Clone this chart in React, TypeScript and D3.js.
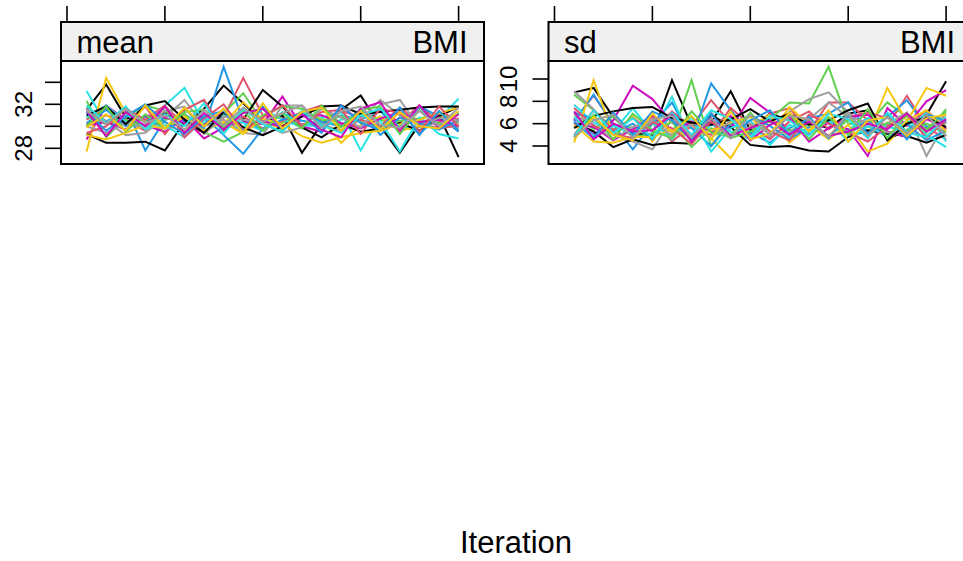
import React from "react";
import * as d3 from "d3";

const iterations = d3.range(1, 21);
const palette = ["#000000", "#DF536B", "#61D04F", "#2297E6", "#28E2E5", "#CD0BBC", "#F5C710", "#9E9E9E"];
const xTicks = [0, 5, 10, 15, 20];

const meanTicks = [28, 30, 32, 34];
const meanLabels = [28, 32];
const sdTicks = [4, 6, 8, 10];
const sdLabels = [4, 6, 8, 10];

const meanChains: number[][] = [
  [31.5, 33.8, 30.8, 30.5, 31.2, 30.2, 31.6, 33.7, 32.1, 30.4, 31.0, 27.6, 30.2, 31.5, 32.8, 30.0, 27.6, 30.2, 31.0, 27.2],
  [30.2, 31.0, 30.5, 29.6, 31.8, 30.2, 29.4, 30.8, 34.4, 31.0, 30.7, 30.2, 30.0, 31.4, 30.8, 31.6, 30.3, 31.9, 30.4, 30.7],
  [32.3, 29.0, 30.8, 31.9, 31.4, 30.2, 30.6, 31.2, 33.0, 30.4, 30.3, 31.1, 30.7, 30.0, 31.2, 30.6, 30.1, 30.6, 30.3, 29.8],
  [31.2, 30.4, 31.7, 27.8, 30.6, 31.1, 29.8, 35.4, 30.5, 29.7, 31.2, 30.5, 30.2, 31.0, 30.6, 31.4, 29.4, 31.8, 30.9, 29.5],
  [33.2, 30.2, 31.0, 30.5, 31.9, 33.5, 30.3, 30.0, 29.9, 31.6, 30.6, 29.9, 30.8, 31.3, 27.8, 30.9, 30.2, 29.4, 30.7, 32.5],
  [28.8, 31.9, 30.6, 30.1, 29.5, 30.7, 28.9, 29.9, 30.4, 30.2, 32.7, 30.0, 29.5, 31.9, 30.4, 29.6, 30.8, 30.2, 31.0, 30.4],
  [27.7, 34.4, 31.2, 30.4, 30.1, 29.6, 30.9, 30.2, 32.2, 30.5, 29.7, 31.4, 30.6, 28.5, 30.1, 30.9, 29.6, 30.0, 30.8, 31.1],
  [31.6, 30.5, 29.2, 29.4, 30.8, 32.4, 30.0, 30.6, 29.4, 29.2, 31.9, 31.9, 30.2, 29.6, 30.6, 32.4, 31.0, 30.5, 30.1, 29.9],
  [29.3, 28.5, 28.5, 28.6, 27.8, 30.4, 30.1, 31.0, 30.6, 33.3, 31.8, 29.9, 29.0, 30.2, 29.5, 29.8, 30.3, 29.6, 30.9, 31.8],
  [30.6, 31.6, 30.2, 31.8, 29.3, 31.5, 32.4, 29.6, 30.9, 29.8, 30.5, 31.3, 31.9, 30.1, 30.6, 30.0, 31.7, 30.3, 29.8, 30.1],
  [30.9, 30.2, 30.6, 29.9, 30.6, 31.1, 29.5, 28.6, 29.5, 31.0, 31.8, 31.6, 30.5, 30.9, 30.4, 29.8, 30.5, 30.7, 31.2, 30.3],
  [30.3, 31.5, 30.0, 30.9, 29.8, 30.5, 30.9, 29.2, 27.5, 29.8, 30.6, 31.2, 30.4, 30.0, 31.6, 29.2, 30.8, 30.3, 29.7, 30.6],
  [30.8, 31.9, 30.4, 29.8, 30.1, 29.0, 30.6, 31.0, 30.3, 29.6, 31.3, 30.1, 30.0, 30.6, 31.0, 30.5, 27.7, 30.8, 29.3, 28.9],
  [30.1, 30.4, 29.7, 31.0, 30.8, 30.3, 30.1, 31.4, 29.6, 30.5, 29.9, 30.9, 31.0, 30.3, 29.8, 30.7, 31.3, 30.4, 30.6, 30.0],
  [29.2, 28.8, 29.4, 30.1, 29.8, 30.9, 29.6, 30.4, 29.3, 30.7, 30.2, 29.1, 28.5, 29.0, 29.4, 29.6, 30.2, 30.6, 31.2, 31.7],
  [30.0, 29.4, 30.3, 29.9, 31.4, 31.8, 29.3, 30.9, 30.6, 30.3, 29.4, 29.9, 31.6, 30.8, 29.9, 32.0, 32.4, 29.9, 30.8, 30.5],
  [31.0, 31.8, 30.2, 31.9, 32.3, 30.6, 29.4, 31.3, 29.9, 29.2, 30.0, 30.9, 31.8, 31.9, 31.1, 31.3, 31.5, 31.7, 31.8, 31.8],
  [29.4, 30.0, 31.6, 30.6, 31.9, 29.0, 30.7, 32.0, 29.6, 30.8, 31.9, 30.0, 31.3, 31.5, 29.3, 31.6, 31.2, 29.5, 31.8, 30.0],
  [30.0, 31.8, 29.5, 31.1, 29.8, 31.3, 31.5, 29.9, 31.4, 29.6, 31.2, 29.8, 31.9, 29.9, 31.5, 31.8, 29.3, 31.5, 30.0, 31.2],
  [31.3, 29.6, 30.9, 32.0, 30.4, 29.3, 30.9, 31.4, 29.5, 31.8, 29.7, 31.2, 29.4, 31.9, 30.3, 29.7, 31.7, 29.2, 31.4, 29.6],
  [31.9, 30.3, 31.8, 29.7, 31.1, 30.0, 32.1, 29.3, 31.6, 30.2, 29.5, 31.4, 30.1, 29.4, 31.0, 31.6, 29.9, 31.8, 29.9, 31.3],
  [31.4, 29.1, 31.3, 30.0, 31.8, 29.4, 31.2, 29.7, 31.2, 31.6, 29.9, 31.1, 29.7, 29.0, 31.6, 32.2, 29.6, 31.9, 29.8, 31.1],
  [29.9, 31.1, 29.6, 31.9, 29.8, 31.7, 30.0, 31.6, 29.4, 32.1, 29.8, 31.3, 31.7, 29.6, 31.4, 29.7, 31.3, 30.0, 29.8, 31.4],
  [31.4, 30.2, 31.6, 30.3, 31.0, 29.7, 31.5, 30.1, 31.7, 30.4, 31.2, 31.9, 29.8, 31.4, 31.8, 30.1, 29.9, 31.4, 30.0, 31.7],
];

const sdChains: number[][] = [
  [8.8, 9.2, 6.6, 5.1, 5.0, 9.9, 5.8, 6.1, 8.9, 5.4, 6.9, 6.3, 6.1, 5.6, 6.9, 7.2, 4.6, 5.4, 6.8, 9.8],
  [6.3, 8.5, 6.0, 5.4, 6.6, 4.4, 5.8, 8.1, 6.0, 5.0, 6.9, 7.4, 5.3, 7.9, 7.9, 6.3, 5.8, 8.5, 5.7, 4.6],
  [8.6, 7.2, 5.5, 5.7, 6.0, 4.9, 9.9, 4.0, 6.4, 5.2, 6.4, 7.9, 7.8, 11.1, 6.0, 5.9, 7.9, 6.6, 5.2, 7.3],
  [6.2, 8.6, 5.9, 3.7, 6.0, 7.9, 4.6, 9.6, 7.2, 5.2, 4.3, 5.6, 6.5, 6.9, 7.9, 5.2, 6.6, 8.1, 5.7, 6.1],
  [7.7, 6.1, 5.3, 7.4, 5.2, 8.4, 4.3, 5.9, 5.3, 4.6, 6.5, 4.8, 6.1, 4.8, 5.5, 6.5, 5.7, 5.4, 7.0, 4.4],
  [6.5, 5.0, 6.3, 9.4, 8.2, 6.1, 5.0, 6.0, 5.6, 8.3, 7.0, 5.4, 5.1, 6.1, 5.5, 3.1, 7.4, 5.8, 8.0, 9.0],
  [4.3, 9.9, 5.0, 6.7, 4.4, 6.9, 5.8, 4.7, 2.9, 5.8, 6.8, 4.3, 5.7, 4.9, 6.6, 5.0, 9.2, 6.2, 9.2, 8.5],
  [8.9, 7.3, 5.0, 4.4, 3.7, 6.4, 5.0, 7.0, 5.0, 5.7, 4.8, 7.1, 8.2, 8.8, 7.0, 5.7, 6.0, 7.0, 3.1, 6.2],
  [6.1, 5.3, 3.9, 4.6, 4.1, 4.3, 4.2, 6.8, 5.7, 4.1, 3.9, 4.0, 3.6, 3.5, 4.8, 5.4, 5.1, 4.9, 4.3, 5.0],
  [5.0, 7.2, 5.4, 6.5, 5.3, 7.1, 5.6, 5.0, 7.4, 5.9, 4.6, 6.2, 7.1, 5.5, 6.6, 7.0, 6.5, 5.8, 7.2, 5.5],
  [6.9, 5.5, 6.7, 4.8, 5.1, 6.2, 3.9, 5.6, 4.7, 5.3, 6.2, 5.4, 5.9, 4.8, 6.4, 5.0, 6.1, 5.4, 6.0, 5.2],
  [7.0, 6.4, 5.2, 6.0, 4.6, 6.9, 5.6, 4.0, 6.0, 6.7, 5.8, 4.6, 5.7, 6.5, 5.0, 6.3, 4.7, 6.0, 4.5, 5.4],
  [6.6, 4.9, 5.8, 5.0, 6.1, 4.6, 6.6, 3.5, 5.6, 6.3, 4.1, 5.9, 5.2, 6.3, 4.4, 5.8, 4.8, 6.3, 5.0, 3.9],
  [6.0, 5.7, 4.5, 5.5, 6.8, 5.2, 6.2, 5.3, 6.7, 4.5, 5.9, 6.6, 4.4, 5.6, 6.6, 6.8, 5.3, 4.8, 6.4, 5.6],
  [5.9, 4.4, 4.3, 4.8, 4.8, 5.5, 4.8, 5.4, 6.1, 6.6, 5.0, 7.5, 5.9, 4.6, 5.9, 3.5, 4.2, 6.3, 7.2, 5.3],
  [6.8, 5.9, 4.6, 5.7, 6.3, 4.9, 5.9, 4.7, 6.3, 6.0, 5.1, 5.2, 6.4, 7.9, 6.6, 6.1, 5.2, 5.3, 4.8, 6.9],
  [5.6, 6.7, 7.1, 7.4, 7.5, 6.5, 6.1, 5.9, 6.4, 7.3, 6.2, 6.9, 5.9, 6.3, 7.2, 7.8, 4.5, 6.0, 6.6, 5.7],
  [7.4, 5.8, 5.1, 4.7, 6.1, 5.6, 4.2, 6.2, 4.8, 6.9, 5.3, 4.5, 6.8, 6.0, 5.2, 4.4, 5.7, 6.9, 4.7, 6.3],
  [4.8, 6.8, 4.6, 6.9, 5.4, 4.7, 7.1, 5.2, 4.9, 7.0, 5.0, 6.9, 4.6, 6.6, 5.0, 7.3, 4.7, 6.9, 5.5, 7.1],
  [6.2, 4.7, 7.0, 5.0, 7.1, 6.3, 4.5, 6.9, 4.8, 6.3, 7.2, 5.0, 6.6, 4.7, 6.8, 5.1, 6.8, 4.6, 6.9, 6.2],
  [4.9, 7.2, 5.1, 6.5, 4.7, 7.0, 5.0, 7.2, 6.4, 4.8, 6.7, 6.3, 4.9, 6.9, 6.4, 4.7, 7.0, 5.2, 4.8, 6.6],
  [7.1, 4.6, 6.0, 5.3, 5.4, 6.8, 4.4, 6.5, 4.9, 5.6, 6.3, 5.0, 6.2, 4.9, 5.3, 6.0, 5.5, 6.9, 5.3, 6.4],
  [4.6, 6.6, 5.0, 4.5, 6.9, 5.2, 6.7, 4.6, 7.1, 4.6, 5.1, 7.0, 5.3, 7.2, 4.4, 6.3, 6.6, 4.9, 6.5, 6.8],
  [4.8, 6.3, 6.8, 4.7, 6.4, 6.7, 4.8, 6.5, 4.7, 6.8, 5.0, 6.7, 6.4, 4.8, 6.9, 4.9, 6.6, 5.1, 6.8, 4.9],
];

const FONT = "'Liberation Sans', Arial, Helvetica, sans-serif";

type PanelProps = {
  left: number;
  label: string;
  chains: number[][];
  yDomain: [number, number];
  yRange: [number, number];
  yTicks: number[];
  yLabels: number[];
  labelX: number;
};

const PANEL_W = 423;
const STRIP_TOP = 22;
const PANEL_TOP = 61;
const PANEL_BOTTOM = 164;

function Panel({ left, label, chains, yDomain, yRange, yTicks, yLabels, labelX }: PanelProps) {
  const x = d3.scaleLinear().domain([0, 20]).range([left + 6, left + 6 + 391.6]);
  const y = d3.scaleLinear().domain(yDomain).range(yRange);
  const line = d3
    .line<number>()
    .x((_, i) => x(iterations[i]))
    .y((d) => y(d));
  return (
    <g>
      <rect x={left} y={STRIP_TOP} width={PANEL_W} height={PANEL_TOP - STRIP_TOP} fill="#F0F0F0" />
      {chains.map((c, i) => (
        <path key={i} d={line(c) || ""} fill="none" stroke={palette[i % palette.length]} strokeWidth={2} strokeLinejoin="miter" />
      ))}
      <rect x={left} y={STRIP_TOP} width={PANEL_W} height={PANEL_TOP - STRIP_TOP} fill="none" stroke="#000" strokeWidth={2} />
      <rect x={left} y={PANEL_TOP} width={PANEL_W} height={PANEL_BOTTOM - PANEL_TOP} fill="none" stroke="#000" strokeWidth={2} />
      <text x={left + 15.5} y={53} fontSize={31} fontFamily={FONT}>{label}</text>
      <text x={left + PANEL_W - 16.5} y={53} fontSize={31} fontFamily={FONT} textAnchor="end">BMI</text>
      {xTicks.map((t) => (
        <line key={t} x1={x(t)} x2={x(t)} y1={6} y2={STRIP_TOP} stroke="#000" strokeWidth={1.6} />
      ))}
      {yTicks.map((t) => (
        <line key={t} x1={left - 16} x2={left} y1={y(t)} y2={y(t)} stroke="#000" strokeWidth={1.6} />
      ))}
      {yLabels.map((t) => (
        <text
          key={t}
          transform={`translate(${labelX},${y(t)}) rotate(-90)`}
          fontSize={24}
          fontFamily={FONT}
          textAnchor="middle"
        >
          {t}
        </text>
      ))}
    </g>
  );
}

export default function App() {
  return (
    <svg
      width={963}
      height={561}
      style={{ position: "absolute", left: 0, top: 0, background: "#fff" }}
    >
      <rect x={0} y={0} width={963} height={561} fill="#fff" />
      <Panel
        left={61}
        label="mean"
        chains={meanChains}
        yDomain={[28, 34]}
        yRange={[148.3, 82.3]}
        yTicks={meanTicks}
        yLabels={meanLabels}
        labelX={31.5}
      />
      <Panel
        left={548.5}
        label="sd"
        chains={sdChains}
        yDomain={[4, 10]}
        yRange={[146, 79]}
        yTicks={sdTicks}
        yLabels={sdLabels}
        labelX={517}
      />
      <text x={516} y={553} fontSize={31} fontFamily={FONT} textAnchor="middle">Iteration</text>
    </svg>
  );
}
